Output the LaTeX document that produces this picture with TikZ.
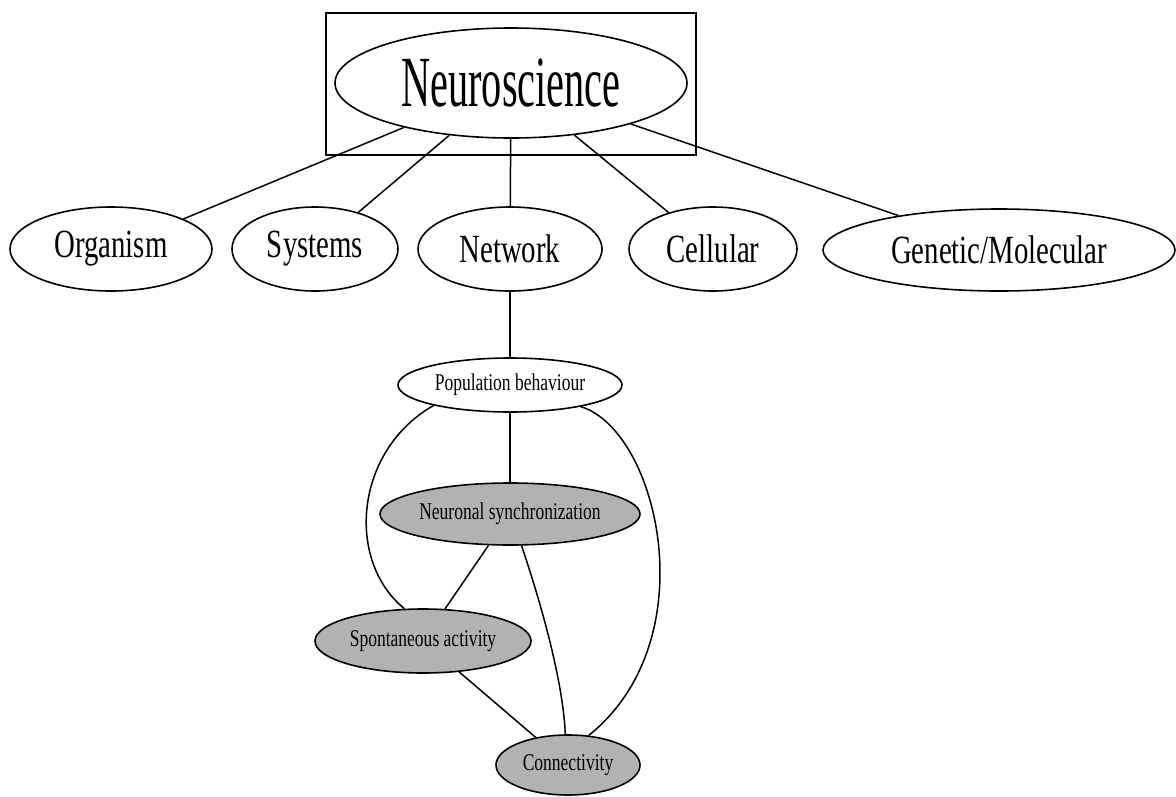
\documentclass[tikz,border=0pt]{standalone}
\usepackage{fontspec}
\usepackage{graphicx}
\setmainfont{Liberation Serif}
\usetikzlibrary{shapes.geometric}
\definecolor{grain}{gray}{0.70}
\newcommand{\lbl}[3]{\fontsize{#1}{#1}\selectfont\scalebox{#2}[1]{#3}}
\tikzset{
  ell/.style={draw, ellipse, line width=1.6pt, inner sep=0pt},
  grey/.style={ell, fill=grain},
  edge/.style={line width=1.5pt},
}
\begin{document}
\begin{tikzpicture}[x=1pt,y=-1pt]
\useasboundingbox (0,0) rectangle (1176,796);
% top
\node[draw, line width=1.6pt, minimum width=370pt, minimum height=142pt, inner sep=0pt] (box) at (511,84) {};
\node[ell, minimum width=352pt, minimum height=110pt] (neuro) at (511,83) {\lbl{72}{0.56}{Neuroscience}};
% level 2
\node[ell, minimum width=202pt, minimum height=84pt] (org) at (111,249) {\lbl{40}{0.72}{Organism}};
\node[ell, minimum width=166pt, minimum height=84pt] (sys) at (315,249) {\lbl{40}{0.72}{Systems}};
\node[ell, minimum width=184pt, minimum height=84pt] (net) at (510,249) {\lbl{40}{0.72}{Network}};
\node[ell, minimum width=168pt, minimum height=84pt] (cel) at (713,249) {\lbl{40}{0.72}{Cellular}};
\node[ell, minimum width=352pt, minimum height=82pt] (gen) at (999,250) {\lbl{40}{0.72}{Genetic/Molecular}};
% lower
\node[ell, minimum width=224pt, minimum height=54pt] (pop) at (510,385) {\lbl{24}{0.73}{Population behaviour}};
\node[grey, minimum width=260pt, minimum height=62pt] (sync) at (510,514) {\lbl{24}{0.73}{Neuronal synchronization}};
\node[grey, minimum width=216pt, minimum height=64pt] (spont) at (423,641) {\lbl{24}{0.73}{Spontaneous activity}};
\node[grey, minimum width=144pt, minimum height=60pt] (conn) at (568,765) {\lbl{24}{0.73}{Connectivity}};
% edges
\draw[edge] (neuro) -- (org);
\draw[edge] (neuro) -- (sys);
\draw[edge] (neuro) -- (net);
\draw[edge] (neuro) -- (cel);
\draw[edge] (neuro) -- (gen);
\draw[edge] (net) -- (pop);
\draw[edge] (pop) -- (sync);
\draw[edge] (pop.195) .. controls (355,450) and (345,560) .. (spont.120);
\draw[edge] (pop.343) .. controls (658,430) and (708,640) .. (conn.55);
\draw[edge] (sync.290) .. controls (540,600) and (563,680) .. (conn.95);
\draw[edge] (sync) -- (spont);
\draw[edge] (spont) -- (conn);
\end{tikzpicture}
\end{document}
